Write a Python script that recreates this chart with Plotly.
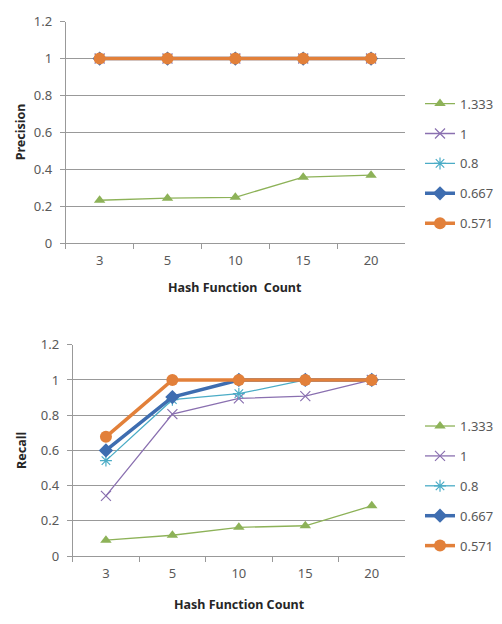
import plotly.graph_objects as go

# Hash function counts on the x axis
hash_counts = ["3", "5", "10", "15", "20"]

# Threshold labels for each series
series_names = ["1.333", "1", "0.8", "0.667", "0.571"]

# Precision per threshold
precision_1333 = [0.232, 0.243, 0.248, 0.357, 0.368]
precision_1 = [1.0, 1.0, 1.0, 1.0, 1.0]
precision_08 = [1.0, 1.0, 1.0, 1.0, 1.0]
precision_0667 = [1.0, 1.0, 1.0, 1.0, 1.0]
precision_0571 = [1.0, 1.0, 1.0, 1.0, 1.0]

# Recall per threshold
recall_1333 = [0.090, 0.118, 0.163, 0.172, 0.285]
recall_1 = [0.342, 0.806, 0.895, 0.908, 1.0]
recall_08 = [0.542, 0.888, 0.922, 1.0, 1.0]
recall_0667 = [0.600, 0.903, 1.0, 1.0, 1.0]
recall_0571 = [0.677, 1.0, 1.0, 1.0, 1.0]

y_ticks = [0, 0.2, 0.4, 0.6, 0.8, 1, 1.2]
y_tick_text = ["0", "0.2", "0.4", "0.6", "0.8", "1", "1.2"]

styles = [
    dict(color="#8db258", width=1.3, symbol="triangle-up", size=10),
    dict(color="#8a70b0", width=1.3, symbol="x-thin-open", size=10),
    dict(color="#4bacc6", width=1.3, symbol="asterisk-open", size=10),
    dict(color="#3e6db0", width=3.5, symbol="diamond", size=11),
    dict(color="#e2803a", width=3.5, symbol="circle", size=12),
]

FONT = "Segoe UI, Noto Sans, Liberation Sans, sans-serif"
TEXT = "#595959"
GRID = "#999999"

W, H = 502, 624

fig = go.Figure()

panels = [
    dict(values=[precision_1333, precision_1, precision_08, precision_0667, precision_0571],
         xa="x", ya="y", legend="legend"),
    dict(values=[recall_1333, recall_1, recall_08, recall_0667, recall_0571],
         xa="x2", ya="y2", legend="legend2"),
]

for p in panels:
    for name, vals, st in zip(series_names, p["values"], styles):
        marker = dict(symbol=st["symbol"], size=st["size"], color=st["color"])
        if "open" in st["symbol"]:
            marker["line"] = dict(color=st["color"], width=1.2)
        fig.add_trace(go.Scatter(
            x=hash_counts, y=vals, name=name, mode="lines+markers",
            line=dict(color=st["color"], width=st["width"]),
            marker=marker, xaxis=p["xa"], yaxis=p["ya"],
            legend=p["legend"], legendgroup=p["legend"] + name,
        ))


def px_x(v):
    return v / W


def px_y(v):
    return 1 - v / H


xaxis_common = dict(
    type="category", categoryorder="array", categoryarray=hash_counts,
    range=[-0.5, 4.5], showgrid=False, showline=True, linecolor=GRID,
    linewidth=1, ticks="outside", ticklen=5, tickcolor=GRID,
    tickson="boundaries", tickfont=dict(family=FONT, size=13, color=TEXT),
    ticklabelstandoff=5, zeroline=False, fixedrange=True,
)
yaxis_common = dict(
    range=[0, 1.2], tickvals=y_ticks, ticktext=y_tick_text,
    showgrid=True, gridcolor=GRID, gridwidth=1, showline=True,
    linecolor=GRID, linewidth=1, ticks="outside", ticklen=5,
    tickcolor=GRID, tickfont=dict(family=FONT, size=13, color=TEXT),
    ticklabelstandoff=5, zeroline=False, fixedrange=True,
)

legend_common = dict(
    font=dict(family=FONT, size=13, color=TEXT), bgcolor="rgba(0,0,0,0)",
    tracegroupgap=10, itemwidth=30, xanchor="left", yanchor="top",
)

fig.update_layout(
    width=W, height=H, margin=dict(l=0, r=0, t=0, b=0),
    paper_bgcolor="white", plot_bgcolor="white",
    showlegend=True,
    xaxis=dict(xaxis_common, domain=[px_x(65.7), px_x(405)], anchor="y"),
    yaxis=dict(yaxis_common, domain=[px_y(241), px_y(13)], anchor="x"),
    xaxis2=dict(xaxis_common, domain=[px_x(72.7), px_x(405)], anchor="y2"),
    yaxis2=dict(yaxis_common, domain=[px_y(563.3), px_y(345.7)], anchor="x2"),
    legend=dict(legend_common, x=px_x(420), y=px_y(82)),
    legend2=dict(legend_common, x=px_x(420), y=px_y(414)),
)

title_font = dict(family=FONT, size=12.5, color="#262626")
for text, x, y, angle in [
    ("<b>Hash Function  Count</b>", 235, 287, 0),
    ("<b>Precision</b>", 20, 127, -90),
    ("<b>Hash Function Count</b>", 239, 613, 0),
    ("<b>Recall</b>", 22, 455, -90),
]:
    fig.add_annotation(
        text=text, x=px_x(x), y=px_y(y), xref="paper", yref="paper",
        showarrow=False, textangle=angle, font=title_font,
        xanchor="center", yanchor="middle",
    )

fig.write_html("out.html")
